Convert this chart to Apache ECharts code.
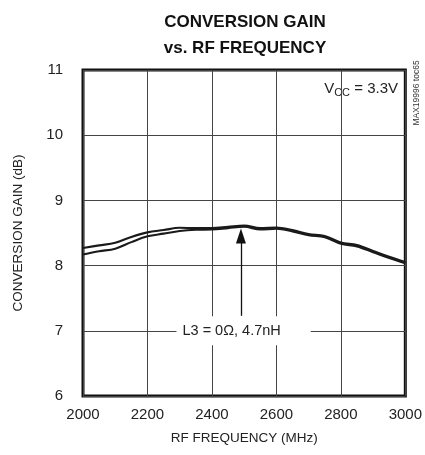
<!DOCTYPE html>
<html><head><meta charset="utf-8">
<script src="https://cdn.jsdelivr.net/npm/echarts@6/dist/echarts.min.js"></script>
<style>html,body{margin:0;padding:0;background:#fff}#c{width:425px;height:455px}</style>
</head><body><div id="c"></div>
<script>
const freqs = [2000,2050,2100,2150,2200,2250,2300,2350,2400,2450,2500,2550,2600,2650,2700,2750,2800,2850,2900,2950,3000];
const gainUpper = [8.27,8.31,8.35,8.44,8.51,8.545,8.58,8.575,8.575,8.595,8.615,8.575,8.585,8.545,8.485,8.455,8.355,8.315,8.225,8.135,8.055];
const gainLower = [8.17,8.22,8.26,8.36,8.45,8.49,8.53,8.55,8.555,8.575,8.595,8.555,8.565,8.525,8.465,8.435,8.335,8.295,8.205,8.115,8.035];
const xTicks = [2000,2200,2400,2600,2800,3000];
const yTicks = [6,7,8,9,10,11];
const annotArrow = {x:2490, tail:7.23, head:8.57};
const annotLabel = {x:2290, y:7, text:'L3 = 0\u03A9, 4.7nH'};

const FONT = '"Liberation Sans", Arial, Helvetica, sans-serif';
const chart = echarts.init(document.getElementById('c'), null, {renderer:'canvas'});
const toPairs = (ys) => freqs.map((f,i)=>[f, ys[i]]);
const lineStyle = {color:'#1a1a1a', width:2.1};

chart.setOption({
  animation:false,
  backgroundColor:'#fff',
  grid:{left:83, right:15, top:70, bottom:59, show:true, borderColor:'#111', borderWidth:3, backgroundColor:'transparent'},
  xAxis:{type:'value', min:xTicks[0], max:xTicks[xTicks.length-1], interval:200,
    name:'RF FREQUENCY (MHz)', nameLocation:'middle', nameGap:35,
    nameTextStyle:{fontFamily:FONT, fontSize:13.5, color:'#222'},
    axisLine:{show:false}, axisTick:{show:false},
    axisLabel:{fontFamily:FONT, fontSize:15, color:'#222', margin:11, formatter:(v)=>String(v)},
    splitLine:{show:true, lineStyle:{color:'#444', width:1}}},
  yAxis:{type:'value', min:yTicks[0], max:yTicks[yTicks.length-1], interval:1,
    name:'CONVERSION GAIN (dB)', nameLocation:'middle', nameGap:58,
    nameTextStyle:{fontFamily:FONT, fontSize:13.5, color:'#222'},
    axisLine:{show:false}, axisTick:{show:false},
    axisLabel:{fontFamily:FONT, fontSize:15, color:'#222', margin:20},
    splitLine:{show:true, lineStyle:{color:'#444', width:1}}},
  series:[
    {type:'line', data:toPairs(gainUpper), smooth:0.35, showSymbol:false, lineStyle:lineStyle, z:3},
    {type:'line', data:toPairs(gainLower), smooth:0.35, showSymbol:false, lineStyle:lineStyle, z:3,
      markLine:{silent:true, symbol:['none','none'], lineStyle:{color:'#111', width:1.3, type:'solid'}, label:{show:false},
        data:[[{coord:[annotArrow.x, annotArrow.tail]},{coord:[annotArrow.x, annotArrow.head-0.2]}]]},
      markPoint:{silent:true, data:[
        {coord:[annotArrow.x, annotArrow.head-0.115], symbol:'triangle', symbolSize:[10,15], itemStyle:{color:'#111'}, label:{show:false}},
        {coord:[annotLabel.x, annotLabel.y], symbol:'rect', symbolSize:0,
          label:{show:true, position:'inside', formatter:annotLabel.text, align:'left', verticalAlign:'middle',
            fontFamily:FONT, fontSize:14.5, color:'#222', backgroundColor:'#fff', padding:[7,30,7,6]}}
      ]}}
  ],
  graphic:[
    {type:'text', x:245, y:9, style:{text:'CONVERSION GAIN\nvs. RF FREQUENCY', fontFamily:FONT, fontWeight:'bold', fontSize:17, lineHeight:26, fill:'#111', textAlign:'center'}},
    {type:'text', x:398, y:79, style:{text:'{a|V}{s|CC}{a| = 3.3V}', textAlign:'right',
      rich:{a:{fontFamily:FONT, fontSize:15, fill:'#222', lineHeight:20}, s:{fontFamily:FONT, fontSize:11, fill:'#222', lineHeight:20, padding:[7,0,0,0]}}}},
    {type:'text', x:417, y:93, rotation:Math.PI/2, style:{text:'MAX19996 toc65', fontFamily:FONT, fontSize:8.5, fill:'#333', textAlign:'center', textVerticalAlign:'middle'}}
  ]
});
</script></body></html>
